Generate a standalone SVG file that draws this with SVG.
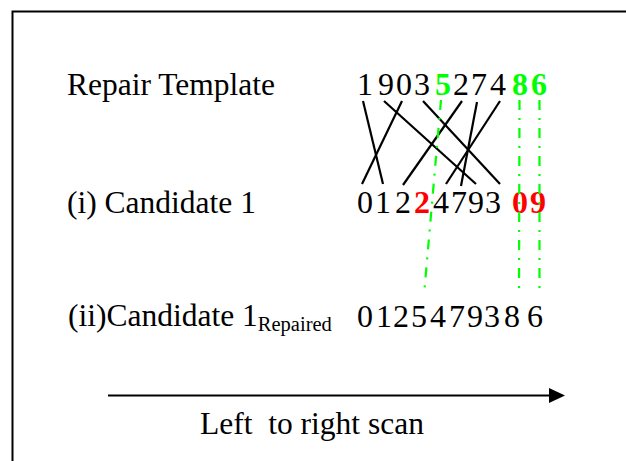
<svg xmlns="http://www.w3.org/2000/svg" width="626" height="461" viewBox="0 0 626 461">
  <defs>
    <marker id="arrowhead" markerWidth="16" markerHeight="15" refX="0" refY="7.5" orient="auto" markerUnits="userSpaceOnUse">
      <path d="M0,0 L16,7.5 L0,15 Z" fill="#000"/>
    </marker>
  </defs>
  <style>
    .lbl { font-family: "Liberation Serif", "Times New Roman", serif; font-size: 31.5px; fill: #000; }
    .sub { font-family: "Liberation Serif", "Times New Roman", serif; font-size: 20.5px; fill: #000; }
    .dig { font-family: "Liberation Serif", "Times New Roman", serif; font-size: 32px; fill: #000; text-anchor: middle; }
    .g { fill: #00ff00; font-weight: bold; }
    .r { fill: #ff0000; font-weight: bold; }
    .map { stroke: #000; stroke-width: 2.2; fill: none; }
    .fix { stroke: #00ff00; stroke-width: 2.2; fill: none; stroke-dasharray: 10 8 2 8; }
  </style>

  <rect width="626" height="461" fill="#fff"/>
  <!-- page frame, running off the right and bottom -->
  <rect x="12.5" y="11.5" width="700" height="500" fill="none" stroke="#000" stroke-width="2"/>

  <g id="template">
    <text class="lbl" x="67" y="95">Repair Template</text>
    <text class="dig" y="95"><tspan x="365">1</tspan><tspan x="386">9</tspan><tspan x="404">0</tspan><tspan x="422">3</tspan><tspan x="443" class="g">5</tspan><tspan x="461">2</tspan><tspan x="479">7</tspan><tspan x="498">4</tspan><tspan x="520" class="g">8</tspan><tspan x="539" class="g">6</tspan></text>
  </g>

  <g id="candidate">
    <text class="lbl" x="67" y="213">(i) Candidate 1</text>
    <text class="dig" y="213"><tspan x="365">0</tspan><tspan x="383">1</tspan><tspan x="403">2</tspan><tspan x="422" class="r">2</tspan><tspan x="441">4</tspan><tspan x="459">7</tspan><tspan x="476">9</tspan><tspan x="493">3</tspan><tspan x="520" class="r">0</tspan><tspan x="538" class="r">9</tspan></text>
  </g>

  <g id="repaired">
    <text class="lbl" x="68" y="326">(ii)Candidate 1<tspan class="sub" dy="5">Repaired</tspan></text>
    <text class="dig" y="327"><tspan x="365">0</tspan><tspan x="384">1</tspan><tspan x="401">2</tspan><tspan x="419">5</tspan><tspan x="438">4</tspan><tspan x="457">7</tspan><tspan x="475">9</tspan><tspan x="492">3</tspan><tspan x="512">8</tspan><tspan x="535">6</tspan></text>
  </g>

  <g id="connectors">
    <!-- template digit to candidate digit -->
    <line class="map" x1="363" y1="101" x2="383" y2="184"/>
    <line class="map" x1="384" y1="101" x2="476" y2="184"/>
    <line class="map" x1="402" y1="101" x2="362" y2="184"/>
    <line class="map" x1="423" y1="101" x2="500" y2="184"/>
    <line class="map" x1="462" y1="101" x2="403" y2="185"/>
    <line class="map" x1="477" y1="102" x2="461" y2="186"/>
    <line class="map" x1="500" y1="101" x2="446" y2="184"/>
    <!-- repairs carried down from the template -->
    <line class="fix" x1="441" y1="100" x2="424" y2="295"/>
    <line class="fix" x1="519.5" y1="100" x2="519" y2="296"/>
    <line class="fix" x1="539.5" y1="100" x2="539.5" y2="294"/>
  </g>

  <g id="scan">
    <line x1="108" y1="395.5" x2="549" y2="395.5" stroke="#000" stroke-width="2" marker-end="url(#arrowhead)"/>
    <text class="lbl" x="200" y="434" xml:space="preserve">Left  to right scan</text>
  </g>
</svg>
